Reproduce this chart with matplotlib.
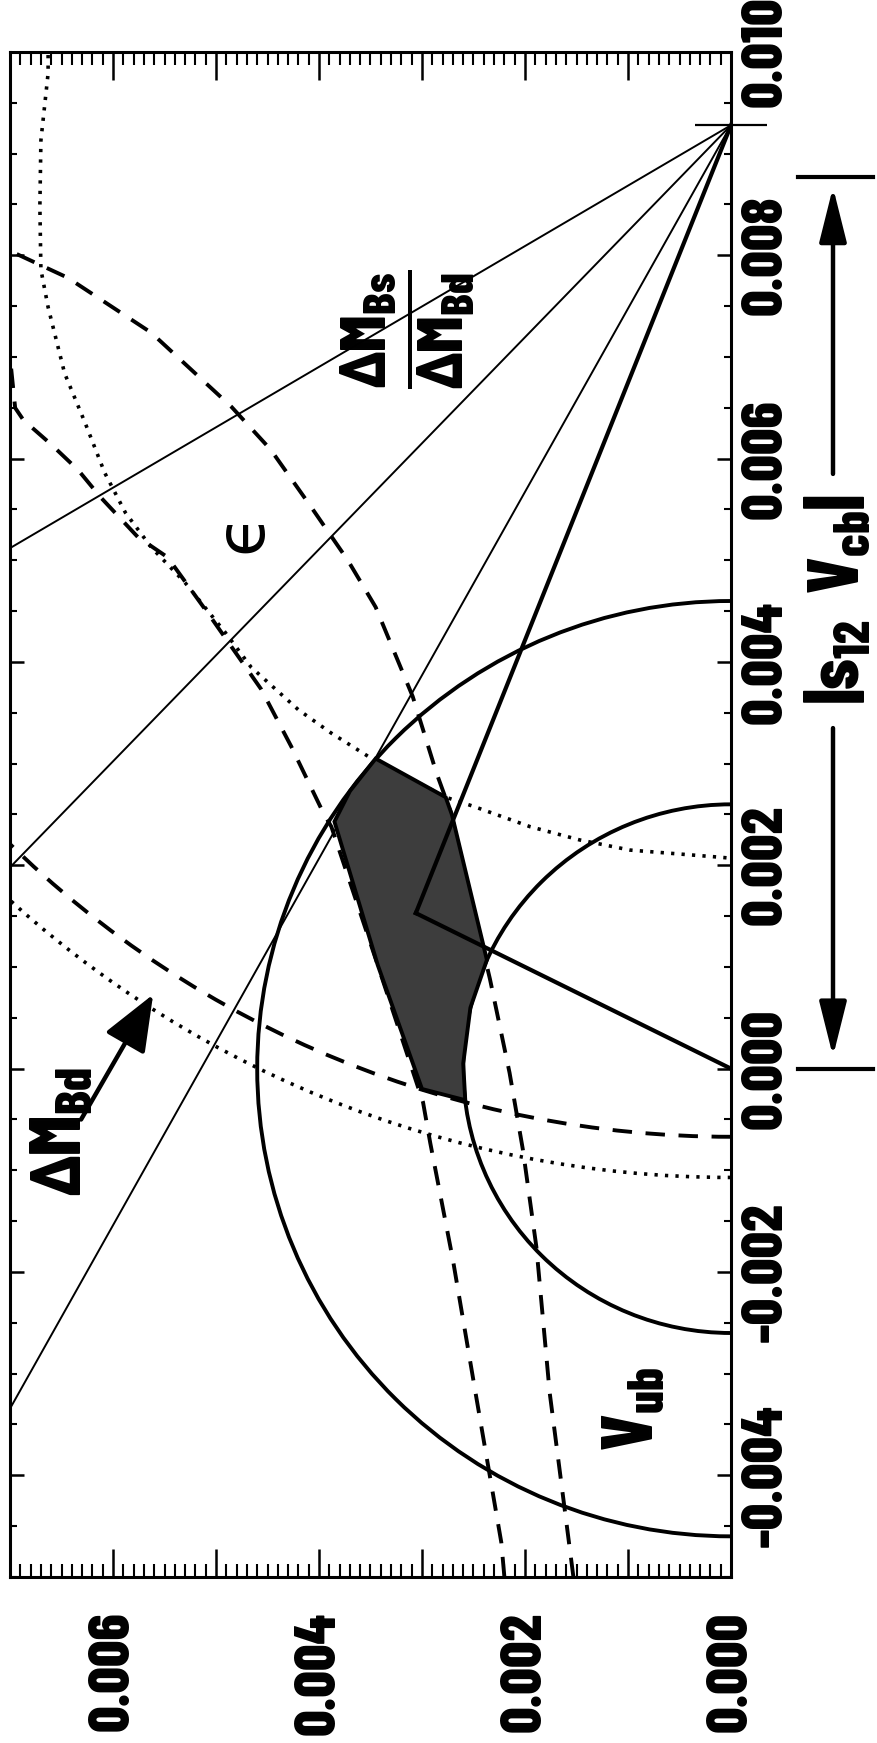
import numpy as np
import matplotlib
matplotlib.use('Agg')
import matplotlib.pyplot as plt
import matplotlib.transforms as mtransforms
from matplotlib.patches import Arc, Polygon
from matplotlib.ticker import MultipleLocator, FuncFormatter

FONT = ['Barlow Condensed', 'DejaVu Sans']
plt.rcParams['font.family'] = FONT
plt.rcParams['font.weight'] = 'heavy'
plt.rcParams['mathtext.fontset'] = 'custom'
plt.rcParams['mathtext.rm'] = 'Barlow Condensed'
plt.rcParams['mathtext.bf'] = 'Barlow Condensed:heavy'

S = 1e-3  # every number below is in units of 0.001

# the figure is turned on its side: horizontal = original y (0 at the right),
# vertical = |s12 Vcb| axis
top_corner = (0.0, 9.28)
apex = (3.06, 1.53)

# dM_Bs/dM_Bd lines from the top corner to the left frame
ratio_end_h = [7.0, 7.0, 7.02]
ratio_end_v = [5.12, 1.98, -3.38]

vub_radius = [2.6, 4.6]
dmbd_dash_radius = 9.95
dmbd_dot_radius = 10.35

# epsilon constraint (dashed)
eps1_h = [1.53, 1.76, 1.89, 2.02, 2.15, 2.34, 2.72, 2.86, 3.09, 3.45, 3.72,
          4.08, 4.47, 4.85, 5.63, 6.44, 6.95, 7.10]
eps1_v = [-5.0, -3.19, -1.75, -0.80, -0.04, 0.88, 2.52, 2.91, 3.66, 4.54, 5.00,
          5.53, 6.09, 6.51, 7.24, 7.78, 8.02, 8.10]
eps2_h = [7.02, 7.0, 6.95, 6.87, 6.60, 6.34, 6.12, 5.76, 5.47, 5.05, 4.56, 4.27,
          3.96, 3.88, 3.43, 2.99, 2.92, 2.70, 2.48, 2.23, 2.20]
eps2_v = [7.86, 7.0, 6.5, 6.38, 6.14, 5.89, 5.62, 5.23, 5.03, 4.44, 3.73, 3.17,
          2.52, 2.38, 1.02, -0.33, -0.73, -1.88, -3.19, -4.66, -5.0]

# dotted constraint
dot1_h = [6.63, 6.63, 6.70, 6.71, 6.70, 6.63, 6.47, 6.27, 6.08, 5.88, 5.63, 5.30,
          4.91, 4.66, 4.20, 3.88, 3.52, 2.77, 2.50, 1.95, 1.47, 0.98, 0.11, 0.0]
dot1_v = [9.97, 9.79, 9.13, 8.48, 7.86, 7.49, 6.84, 6.35, 5.86, 5.47, 5.13, 4.78,
          4.29, 3.95, 3.53, 3.30, 3.07, 2.67, 2.58, 2.38, 2.25, 2.15, 2.08, 2.07]

# allowed region
region_h = [3.45, 2.77, 2.71, 2.37, 2.53, 2.60, 2.58, 3.00, 3.43, 3.85, 3.70]
region_v = [3.05, 2.67, 2.50, 1.07, 0.60, 0.05, -0.31, -0.20, 1.02, 2.43, 2.73]

vcb_bar = [0.0, 8.77]

fig = plt.figure(figsize=(8.77, 17.43), dpi=100)
ax = fig.add_axes([10 / 877, 166 / 1743, 721 / 877, 1525 / 1743])
ax.set_xlim(7.0 * S, 0.0)
ax.set_ylim(-5.0 * S, 10.0 * S)

for r in vub_radius:
    ax.add_patch(Arc((0, 0), 2 * r * S, 2 * r * S, theta1=-90, theta2=90,
                     lw=2.8, color='k', zorder=3))

pc = (top_corner[0] * S, top_corner[1] * S)
ax.add_patch(Arc(pc, 2 * dmbd_dash_radius * S, 2 * dmbd_dash_radius * S,
                 theta1=-90, theta2=0, lw=2.8, color='k', ls=(0, (5, 3.5)), zorder=2))
ax.add_patch(Arc(pc, 2 * dmbd_dot_radius * S, 2 * dmbd_dot_radius * S,
                 theta1=-90, theta2=0, lw=2.6, color='k', ls=(0, (0.9, 2.0)), zorder=2))

ax.plot(np.array(eps1_h) * S, np.array(eps1_v) * S, color='k', lw=2.8, ls=(0, (5, 3.5)), zorder=2)
ax.plot(np.array(eps2_h) * S, np.array(eps2_v) * S, color='k', lw=2.8, ls=(0, (5, 3.5)), zorder=2)
ax.plot(np.array(dot1_h) * S, np.array(dot1_v) * S, color='k', lw=2.6, ls=(0, (0.9, 2.0)), zorder=2)

for he, ve in zip(ratio_end_h, ratio_end_v):
    ax.plot([pc[0], he * S], [pc[1], ve * S], color='k', lw=1.4, zorder=3)

ax.add_patch(Polygon(np.column_stack([region_h, region_v]) * S, closed=True,
                     fc='#3d3d3d', ec='k', lw=2.8, zorder=4))

ax.plot([pc[0], apex[0] * S], [pc[1], apex[1] * S], color='k', lw=3.0, zorder=5)
ax.plot([0, apex[0] * S], [0, apex[1] * S], color='k', lw=3.0, zorder=5)
ax.plot(pc[0], pc[1], marker='_', ms=52, mew=1.6, color='k', clip_on=False, zorder=6)

# ticks
ax.xaxis.set_major_locator(MultipleLocator(0.001))
ax.xaxis.set_minor_locator(MultipleLocator(0.0001))
ax.yaxis.set_major_locator(MultipleLocator(0.002))
ax.yaxis.set_minor_locator(MultipleLocator(0.0005))


def h_fmt(v, pos):
    k = int(round(v / S))
    return f'{k * S:.3f}' if k % 2 == 0 else ''


def v_fmt(v, pos):
    k = int(round(v / S))
    return f'{k * S:.3f}'


ax.xaxis.set_major_formatter(FuncFormatter(h_fmt))
ax.yaxis.set_major_formatter(FuncFormatter(v_fmt))
ax.tick_params(axis='x', which='major', direction='in', length=20, width=1.8,
               top=True, bottom=True, labelrotation=90, labelsize=42, pad=25)
ax.tick_params(axis='x', which='minor', direction='in', length=9.5, width=1.5,
               top=True, bottom=True)
ax.tick_params(axis='y', which='major', direction='in', length=10, width=1.8,
               left=True, right=True, labelleft=False, labelright=True,
               labelrotation=90, labelsize=42, pad=7)
ax.tick_params(axis='y', which='minor', direction='in', length=5, width=1.5,
               left=True, right=True)
plt.setp(ax.yaxis.get_majorticklabels(), va='center')
for sp in ax.spines.values():
    sp.set_linewidth(2.2)

# labels inside
ax.text(3.15 * S, 7.27 * S,
        r'$\dfrac{\Delta\mathbf{M}_{\mathbf{Bs}}}{\Delta\mathbf{M}_{\mathbf{Bd}}}$',
        rotation=90, ha='center', va='center', fontsize=47)
ax.text(4.74 * S, 5.27 * S, '\u03f5', rotation=90, ha='center', va='center',
        fontsize=48, fontweight='normal', family='DejaVu Sans')
ax.text(6.50 * S, -0.62 * S, r'$\Delta\mathbf{M}_{\mathbf{Bd}}$', rotation=90,
        ha='center', va='center', fontsize=52)
ax.text(0.95 * S, -3.35 * S, r'$\mathbf{V}_{\mathbf{ub}}$', rotation=90,
        ha='center', va='center', fontsize=52)
ax.annotate('', xy=(5.61 * S, 0.73 * S), xytext=(6.31 * S, -0.50 * S),
            arrowprops=dict(arrowstyle='-|>,head_length=1.25,head_width=0.5',
                            mutation_scale=28, lw=3.2, color='k',
                            shrinkA=0, shrinkB=0), zorder=6)

# axis label with range arrows on the right
trans = mtransforms.blended_transform_factory(fig.transFigure, ax.transData)
xa = 833 / 877
ax.text(838 / 877, 4.62 * S, r'$\mathbf{|s_{12}\ V_{cb}|}$', transform=trans,
        rotation=90, ha='center', va='center', fontsize=52)
for tail, tip in [(5.85, 8.67), (3.35, 0.12)]:
    ax.annotate('', xy=(xa, tip * S), xytext=(xa, tail * S), xycoords=trans,
                textcoords=trans, annotation_clip=False,
                arrowprops=dict(arrowstyle='-|>,head_length=1.2,head_width=0.3',
                                mutation_scale=28, lw=3.2, color='k',
                                shrinkA=0, shrinkB=0))
for v in vcb_bar:
    ax.plot([798 / 877, 873 / 877], [v * S, v * S], transform=trans, lw=3,
            color='k', clip_on=False)

fig.savefig('out.png', dpi=100)
